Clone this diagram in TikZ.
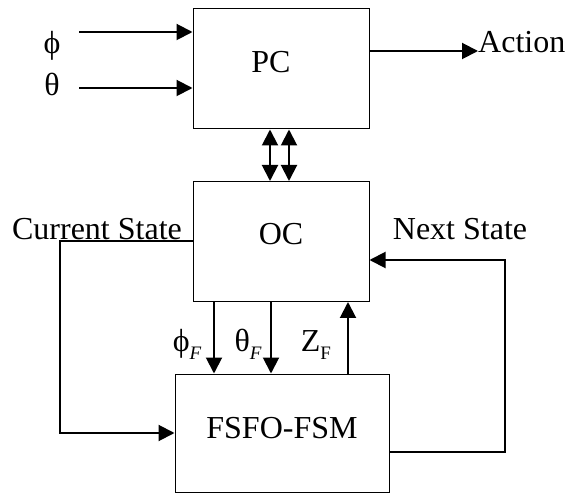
\documentclass[tikz,border=0pt]{standalone}
\usepackage{fontspec}
\setmainfont{Liberation Serif}
\usetikzlibrary{arrows.meta}
\newcommand\mysubtext[1]{\raisebox{-0.22em}{\fontsize{19}{19}\selectfont #1}}
\begin{document}
\begin{tikzpicture}[x=1pt,y=-1pt,
  blk/.style={draw,line width=1pt,minimum width=176pt,minimum height=120pt,inner sep=0pt},
  arr/.style={line width=2pt,-{Triangle[length=16pt,width=16pt]}},
  dbl/.style={line width=2pt,{Triangle[length=16pt,width=16pt]}-{Triangle[length=16pt,width=16pt]}},
  lbl/.style={font=\fontsize{32}{37}\selectfont,inner sep=0pt}]
\useasboundingbox (0,0) rectangle (565,494);
% blocks
\node[blk] (PC) at (281,69) {};
\node[blk] (OC) at (281,241.5) {};
\node[blk,minimum width=214pt,minimum height=118pt] (FS) at (282,433) {};
\node[lbl] (pct) at (271,62.5) {PC};
\node[lbl] (oct) at (281,234) {OC};
\node[lbl] (fst) at (282,428) {FSFO-FSM};
% inputs
\coordinate (phiS) at (79,32);
\coordinate (thS) at (79,88);
\draw[arr] (phiS) -- (phiS -| PC.west);
\draw[arr] (thS) -- (thS -| PC.west);
\node[lbl] (phi) at (52,46) {ϕ};
\node[lbl] (th) at (52,84) {θ};
% action
\node[lbl,anchor=base west] (act) at (478,53) {Action};
\draw[arr] ([yshift=18pt]PC.east) -- ([yshift=18pt]PC.east -| act.west);
% PC <-> OC
\draw[dbl] ([xshift=-11pt]PC.south) -- ([xshift=-11pt]OC.north);
\draw[dbl] ([xshift=8pt]PC.south) -- ([xshift=8pt]OC.north);
% OC <-> FSFO
\draw[arr] ([xshift=-67pt]OC.south) -- ([xshift=-67pt]OC.south |- FS.north);
\draw[arr] ([xshift=-10pt]OC.south) -- ([xshift=-10pt]OC.south |- FS.north);
\draw[arr] ([xshift=67pt]OC.south |- FS.north) -- ([xshift=67pt]OC.south);
\node[lbl,anchor=base] (phif) at (187,352) {ϕ\mysubtext{\itshape F}};
\node[lbl,anchor=base] (thf) at (248,352) {θ\mysubtext{\itshape F}};
\node[lbl,anchor=base] (zf) at (316,352) {Z\mysubtext{F}};
% state loops
\coordinate (csc) at (60,300);
\coordinate (nsc) at (505,300);
\draw[arr] (OC.west) -| (csc) |- (FS.west);
\draw[arr] ([yshift=-19pt]FS.east) -| (nsc) |- ([yshift=-18.5pt]OC.east);
\node[lbl,anchor=base] (cs) at (97,240) {Current State};
\node[lbl,anchor=base] (ns) at (460,240) {Next State};
\end{tikzpicture}
\end{document}
